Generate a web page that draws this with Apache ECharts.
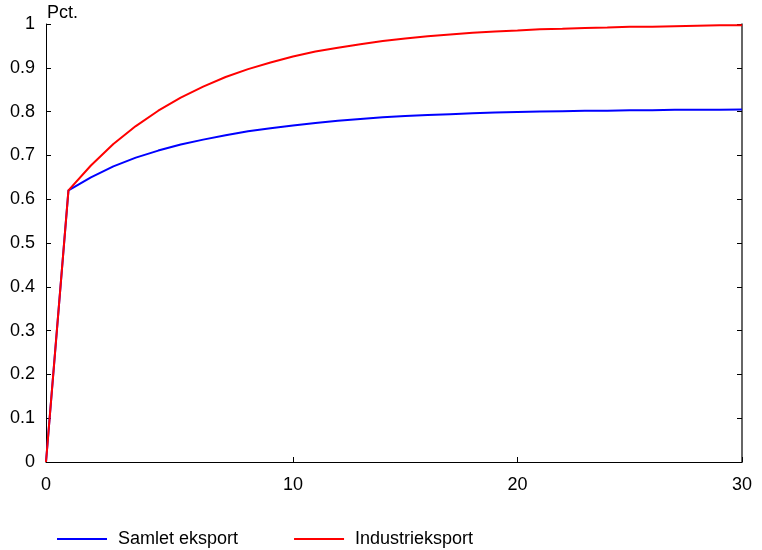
<!DOCTYPE html>
<html>
<head>
<meta charset="utf-8">
<script src="https://cdn.jsdelivr.net/npm/echarts@6/dist/echarts.min.js"></script>
<style>
  html, body { margin: 0; padding: 0; background: #fff; }
  #chart { width: 762px; height: 550px; }
</style>
</head>
<body>
<div id="chart"></div>
<script>
// Periods after the shock (first entry is the starting point)
const periods = ["0", "0", "1", "2", "3", "4", "5", "6", "7", "8", "9", "10",
  "11", "12", "13", "14", "15", "16", "17", "18", "19", "20",
  "21", "22", "23", "24", "25", "26", "27", "28", "29", "30"];

// Indices of periods whose labels are shown: 0, 10, 20, 30
const labelledIdx = [0, 11, 21, 31];

// Cumulative effect, pct.
const samletEksport = [0, 0.620, 0.650, 0.675, 0.695, 0.711, 0.725, 0.736, 0.746, 0.755,
  0.762, 0.768, 0.774, 0.779, 0.783, 0.787, 0.790, 0.792, 0.794, 0.796,
  0.798, 0.799, 0.800, 0.801, 0.802, 0.802, 0.803, 0.803, 0.804, 0.804, 0.804, 0.805];

const industriEksport = [0, 0.620, 0.677, 0.726, 0.767, 0.802, 0.832, 0.857, 0.879, 0.897,
  0.912, 0.926, 0.937, 0.946, 0.954, 0.961, 0.967, 0.972, 0.976, 0.980,
  0.983, 0.985, 0.988, 0.989, 0.991, 0.992, 0.994, 0.994, 0.995, 0.996, 0.997, 0.997];

const FONT = '"Liberation Sans", Arial, Helvetica, sans-serif';
const FS = 18;

const chart = echarts.init(document.getElementById('chart'), null, { renderer: 'canvas' });

const showLabel = (idx) => labelledIdx.indexOf(idx) >= 0;

chart.setOption({
  animation: false,
  backgroundColor: '#ffffff',
  textStyle: { fontFamily: FONT },
  grid: { left: 46, right: 20, top: 24, bottom: 88, containLabel: false },
  legend: {
    left: 57,
    top: 530,
    padding: 0,
    itemWidth: 50,
    itemHeight: 2,
    itemGap: 56,
    icon: 'rect',
    textStyle: { fontFamily: FONT, fontSize: FS, color: '#000', padding: [0, 0, 0, 6] },
    data: ['Samlet eksport', 'Industrieksport']
  },
  xAxis: {
    type: 'category',
    data: periods,
    boundaryGap: false,
    axisLine: { show: true, lineStyle: { color: '#000', width: 1 } },
    axisTick: { show: true, inside: true, length: 5, interval: showLabel, lineStyle: { color: '#000' } },
    axisLabel: { interval: showLabel, margin: 14, fontSize: FS, color: '#000', fontFamily: FONT },
    splitLine: { show: false }
  },
  yAxis: [
    {
      type: 'value',
      min: 0,
      max: 1,
      interval: 0.1,
      position: 'left',
      name: 'Pct.',
      nameLocation: 'end',
      nameGap: 2,
      nameTextStyle: { fontSize: FS, color: '#000', align: 'left', fontFamily: FONT, padding: [0, 0, 0, 1] },
      axisLine: { show: true, lineStyle: { color: '#000', width: 1 } },
      axisTick: { show: true, inside: true, length: 5, lineStyle: { color: '#000' } },
      axisLabel: { margin: 11, fontSize: FS, color: '#000', fontFamily: FONT },
      splitLine: { show: false }
    },
    {
      type: 'value',
      min: 0,
      max: 1,
      interval: 0.1,
      position: 'right',
      axisLine: { show: true, lineStyle: { color: '#333', width: 1.5 } },
      axisTick: { show: true, inside: true, length: 5, lineStyle: { color: '#000' } },
      axisLabel: { show: false },
      splitLine: { show: false }
    }
  ],
  series: [
    {
      name: 'Samlet eksport',
      type: 'line',
      data: samletEksport,
      yAxisIndex: 0,
      showSymbol: false,
      symbol: 'none',
      smooth: false,
      color: '#0000ff',
      lineStyle: { color: '#0000ff', width: 2 },
      z: 2
    },
    {
      name: 'Industrieksport',
      type: 'line',
      data: industriEksport,
      yAxisIndex: 0,
      showSymbol: false,
      symbol: 'none',
      smooth: false,
      color: '#ff0000',
      lineStyle: { color: '#ff0000', width: 2 },
      z: 3
    }
  ]
});
</script>
</body>
</html>
